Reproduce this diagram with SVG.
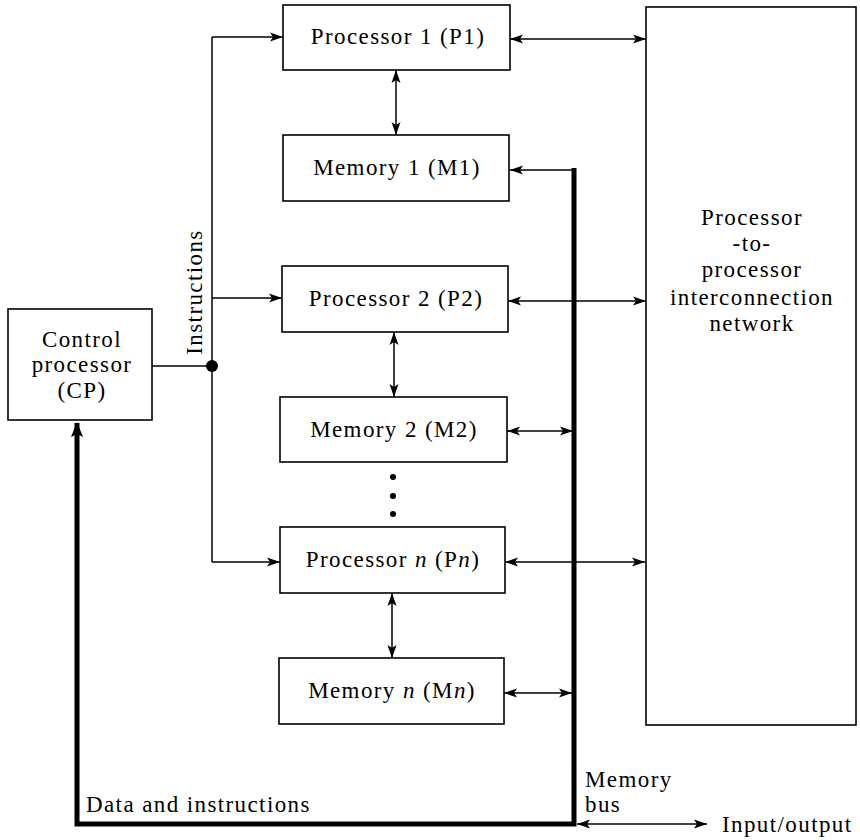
<svg xmlns="http://www.w3.org/2000/svg" width="860" height="840" viewBox="0 0 860 840">
<style>
  .box { fill: #ffffff; stroke: #000000; stroke-width: 1.6; }
  .t { font-family: "Liberation Serif", "Times New Roman", serif; font-size: 23px; letter-spacing: 1.4px; fill: #000000; }
  .c { text-anchor: middle; }
  .ln { fill: none; stroke: #000000; stroke-width: 1.5; }
  .bi { marker-start: url(#ah); marker-end: url(#ah); }
  .one { marker-end: url(#ah); }
  .bus { fill: none; stroke: #000000; stroke-width: 5; stroke-linejoin: miter; }
</style>
<defs>
  <marker id="ah" markerUnits="userSpaceOnUse" markerWidth="14" markerHeight="10" refX="13" refY="4.5" orient="auto-start-reverse" viewBox="0 0 14 9">
    <path d="M0,0 L13,4.5 L0,9 L3,4.5 z" fill="#000000"/>
  </marker>
  <marker id="ahb" markerUnits="userSpaceOnUse" markerWidth="16" markerHeight="14" refX="14" refY="6" orient="auto" viewBox="0 0 16 12">
    <path d="M0,0 L15,6 L0,12 L3,6 z" fill="#000000"/>
  </marker>
</defs>

<g id="connectors">
  <!-- instructions bus -->
  <path class="ln" d="M152,366 L212,366"/>
  <path class="ln" d="M212,37 L212,562"/>
  <path class="ln one" d="M212,37 L283,37"/>
  <path class="ln one" d="M212,298 L282,298"/>
  <path class="ln one" d="M212,562 L280,562"/>
  <circle cx="212" cy="366" r="6" fill="#000000"/>
  <!-- processor to memory -->
  <path class="ln bi" d="M396,70 L396,135"/>
  <path class="ln bi" d="M394,332 L394,397"/>
  <path class="ln bi" d="M392,593 L392,658"/>
  <!-- processor to network -->
  <path class="ln bi" d="M510,39 L646,39"/>
  <path class="ln bi" d="M508,301 L646,301"/>
  <path class="ln bi" d="M505,562 L645,562"/>
  <!-- memory to memory bus -->
  <path class="ln one" d="M574,170 L510,170"/>
  <path class="ln bi" d="M507,431 L573,431"/>
  <path class="ln bi" d="M504,693 L572,693"/>
  <!-- memory bus -->
  <path class="bus" d="M574,168 L574,824 L77,824 L77,423" marker-end="url(#ahb)"/>
  <!-- input/output -->
  <path class="ln bi" d="M577,824 L707,824"/>
  <!-- dots -->
  <circle cx="393" cy="477" r="3" fill="#000000"/>
  <circle cx="393" cy="496" r="3" fill="#000000"/>
  <circle cx="393" cy="514" r="3" fill="#000000"/>
</g>

<g id="cp">
  <rect class="box" x="8" y="309" width="144" height="111"/>
  <text class="t c" x="82" y="347">Control</text>
  <text class="t c" x="82" y="372">processor</text>
  <text class="t c" x="82" y="398">(CP)</text>
</g>

<g id="p1">
  <rect class="box" x="283" y="5" width="227" height="65"/>
  <text class="t c" x="398" y="44">Processor 1 (P1)</text>
</g>
<g id="m1">
  <rect class="box" x="283" y="135" width="226" height="66"/>
  <text class="t c" x="397" y="175">Memory 1 (M1)</text>
</g>
<g id="p2">
  <rect class="box" x="282" y="266" width="226" height="66"/>
  <text class="t c" x="396" y="306">Processor 2 (P2)</text>
</g>
<g id="m2">
  <rect class="box" x="280" y="397" width="227" height="65"/>
  <text class="t c" x="394" y="437">Memory 2 (M2)</text>
</g>
<g id="pn">
  <rect class="box" x="280" y="527" width="225" height="66"/>
  <text class="t c" x="393" y="567">Processor <tspan font-style="italic">n</tspan> (P<tspan font-style="italic">n</tspan>)</text>
</g>
<g id="mn">
  <rect class="box" x="279" y="658" width="225" height="66"/>
  <text class="t c" x="392" y="698">Memory <tspan font-style="italic">n</tspan> (M<tspan font-style="italic">n</tspan>)</text>
</g>

<g id="network">
  <rect class="box" x="646" y="7" width="210" height="718"/>
  <text class="t c" x="752" y="225">Processor</text>
  <text class="t c" x="752" y="251">-to-</text>
  <text class="t c" x="752" y="277">processor</text>
  <text class="t c" x="752" y="305">interconnection</text>
  <text class="t c" x="752" y="331">network</text>
</g>

<g id="labels">
  <text class="t c" transform="translate(202,292) rotate(-90)">Instructions</text>
  <text class="t" x="86" y="812">Data and instructions</text>
  <text class="t" x="585" y="787">Memory</text>
  <text class="t" x="585" y="812">bus</text>
  <text class="t" x="722" y="832">Input/output</text>
</g>
</svg>
